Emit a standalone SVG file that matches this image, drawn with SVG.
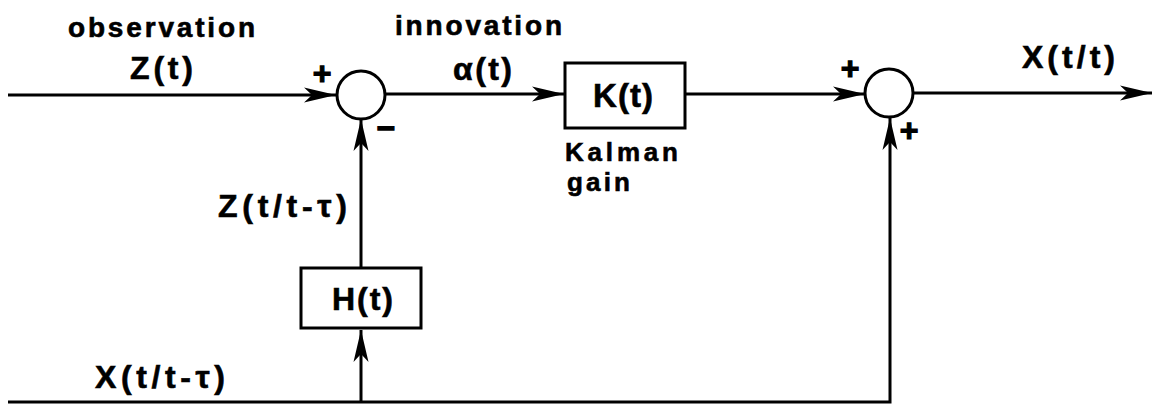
<svg xmlns="http://www.w3.org/2000/svg" width="1155" height="406" viewBox="0 0 1155 406">
<style>
  .ln { stroke:#000; stroke-width:3; fill:none; }
  .box { stroke:#000; stroke-width:3; fill:#fff; }
  .t { font-family:"Liberation Sans", Arial, sans-serif; font-weight:bold; fill:#000; stroke:#000; stroke-width:0.6; }
  .w { font-size:28px; }
  .s { font-size:32px; }
  .sg { font-size:32px; text-anchor:middle; stroke-width:1.2; }
</style>
<defs>
  <marker id="arr" markerUnits="userSpaceOnUse" markerWidth="36" markerHeight="20" viewBox="-34 -10 36 20" refX="0" refY="0" orient="auto">
    <path d="M0,0 L-32,-7.5 L-24,0 L-32,7.5 Z" fill="#000"/>
  </marker>
</defs>

<g id="connectors">
  <line class="ln" x1="8" y1="95" x2="336" y2="95" marker-end="url(#arr)"/>
  <line class="ln" x1="385" y1="94" x2="564" y2="94" marker-end="url(#arr)"/>
  <line class="ln" x1="685" y1="94" x2="865" y2="94" marker-end="url(#arr)"/>
  <line class="ln" x1="913" y1="93" x2="1152" y2="93" marker-end="url(#arr)"/>
  <line class="ln" x1="361" y1="268" x2="361" y2="119" marker-end="url(#arr)"/>
  <line class="ln" x1="361" y1="402" x2="361" y2="330" marker-end="url(#arr)"/>
  <polyline class="ln" points="8,402 890,402 890,118" marker-end="url(#arr)"/>
</g>

<g id="sum1">
  <circle class="box" cx="361" cy="95" r="24"/>
  <text class="t sg" x="322" y="84">+</text>
  <text class="t sg" x="386" y="139">−</text>
</g>

<g id="sum2">
  <circle class="box" cx="889" cy="93" r="24"/>
  <text class="t sg" x="850" y="79">+</text>
  <text class="t sg" x="909" y="141">+</text>
</g>

<g id="K">
  <rect class="box" x="565" y="63" width="120" height="65"/>
  <text class="t" style="font-size:33px" x="593" y="107" textLength="60" lengthAdjust="spacing">K(t)</text>
</g>

<g id="H">
  <rect class="box" x="301" y="268" width="120" height="60"/>
  <text class="t s" x="332" y="310" textLength="61" lengthAdjust="spacing">H(t)</text>
</g>

<g id="labels">
  <text class="t w" x="68" y="37" textLength="187" lengthAdjust="spacing">observation</text>
  <text class="t w" x="395" y="35" textLength="167" lengthAdjust="spacing">innovation</text>
  <text class="t s" x="130" y="79" textLength="63" lengthAdjust="spacing">Z(t)</text>
  <text class="t s" x="453" y="80" textLength="59" lengthAdjust="spacing">α(t)</text>
  <text class="t" style="font-size:26px" x="565" y="161" textLength="113" lengthAdjust="spacing">Kalman</text>
  <text class="t" style="font-size:26px" x="567" y="191" textLength="63" lengthAdjust="spacing">gain</text>
  <text class="t s" x="1022" y="68" textLength="93" lengthAdjust="spacing">X(t/t)</text>
  <text class="t s" x="218" y="217" textLength="129" lengthAdjust="spacing">Z(t/t-τ)</text>
  <text class="t s" x="95" y="388" textLength="130" lengthAdjust="spacing">X(t/t-τ)</text>
</g>
</svg>
